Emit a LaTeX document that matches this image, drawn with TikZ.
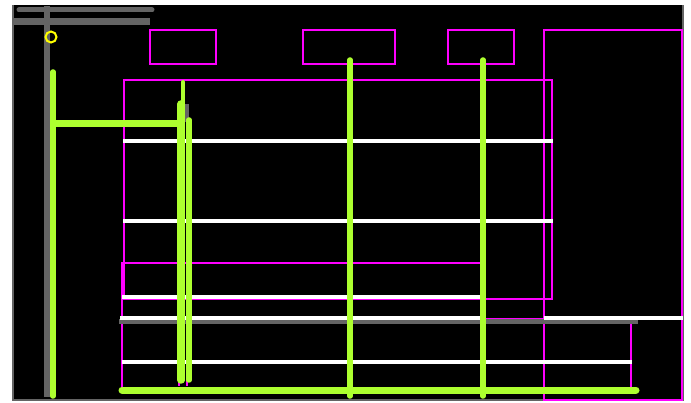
\documentclass[tikz,border=0pt]{standalone}
\usepackage{tikz}
\usetikzlibrary{positioning}

\definecolor{wallgray}{RGB}{100,100,100}
\definecolor{wiregreen}{RGB}{173,255,47}
\definecolor{zonepink}{RGB}{255,0,255}
\definecolor{portyellow}{RGB}{255,255,0}

\begin{document}
\begin{tikzpicture}[
    x=1pt, y=-1pt,
    wall/.style={draw=wallgray, line width=6pt, line cap=round},
    wire/.style={draw=wiregreen, line width=5.5pt, line cap=round},
    rail/.style={draw=white, line width=4pt},
    zone/.style={draw=zonepink, line width=2.2pt},
    port/.style={circle, draw=portyellow, line width=2pt, minimum size=11pt, inner sep=0pt}
]
\useasboundingbox (0,0) rectangle (691,403);
\fill[black] (12,5) rectangle (684,401);
\draw[wallgray, line width=2.5pt] (13,5) -- (13,400) -- (683,400) -- (683,5);

% zones
\draw[zone] (150,30) rectangle (216,64);
\draw[zone] (303,30) rectangle (395,64);
\draw[zone] (448,30) rectangle (514,64);
\draw[zone] (544,30) rectangle (682,400);
\draw[zone] (124,80) rectangle (552,299);
\draw[zone] (122,263) rectangle (483,388);
\draw[zone] (122,319) rectangle (631,388);
\draw[zone, line width=1.5pt] (179,300) -- (179,386) (187,300) -- (187,386);

% walls
\draw[wall, line width=5pt] (19,10) -- (152,10);
\draw[wall, line width=7pt, line cap=butt] (13,22) -- (150,22);
\draw[wall, line cap=butt] (47,6) -- (47,397);
\draw[wall, line width=4pt, line cap=butt] (187,104) -- (187,122);
\draw[wall, line width=5pt, line cap=butt] (119,322) -- (638,322);

% rails
\draw[rail] (123,141) -- (553,141);
\draw[rail] (123,221) -- (553,221);
\draw[rail] (122,297) -- (480,297);
\draw[rail] (120,318) -- (480,318);
\draw[rail] (544,318) -- (683,318);
\draw[rail] (122,362) -- (632,362);

% wiring
\draw[wire] (53,72) -- (53,396);
\draw[wire, line width=7pt, line cap=butt] (53,124) -- (180,124);
\draw[wire, line width=4pt] (183,82) -- (183,380);
\draw[wire, line width=7.5pt] (181,104) -- (181,380);
\draw[wire] (189,120) -- (189,380);
\draw[wire] (350,60) -- (350,396);
\draw[wire] (483,60) -- (483,396);
\draw[wire, line width=7pt] (122,390) -- (636,390);

\node[port] (feed) at (51,37) {};
\end{tikzpicture}
\end{document}
